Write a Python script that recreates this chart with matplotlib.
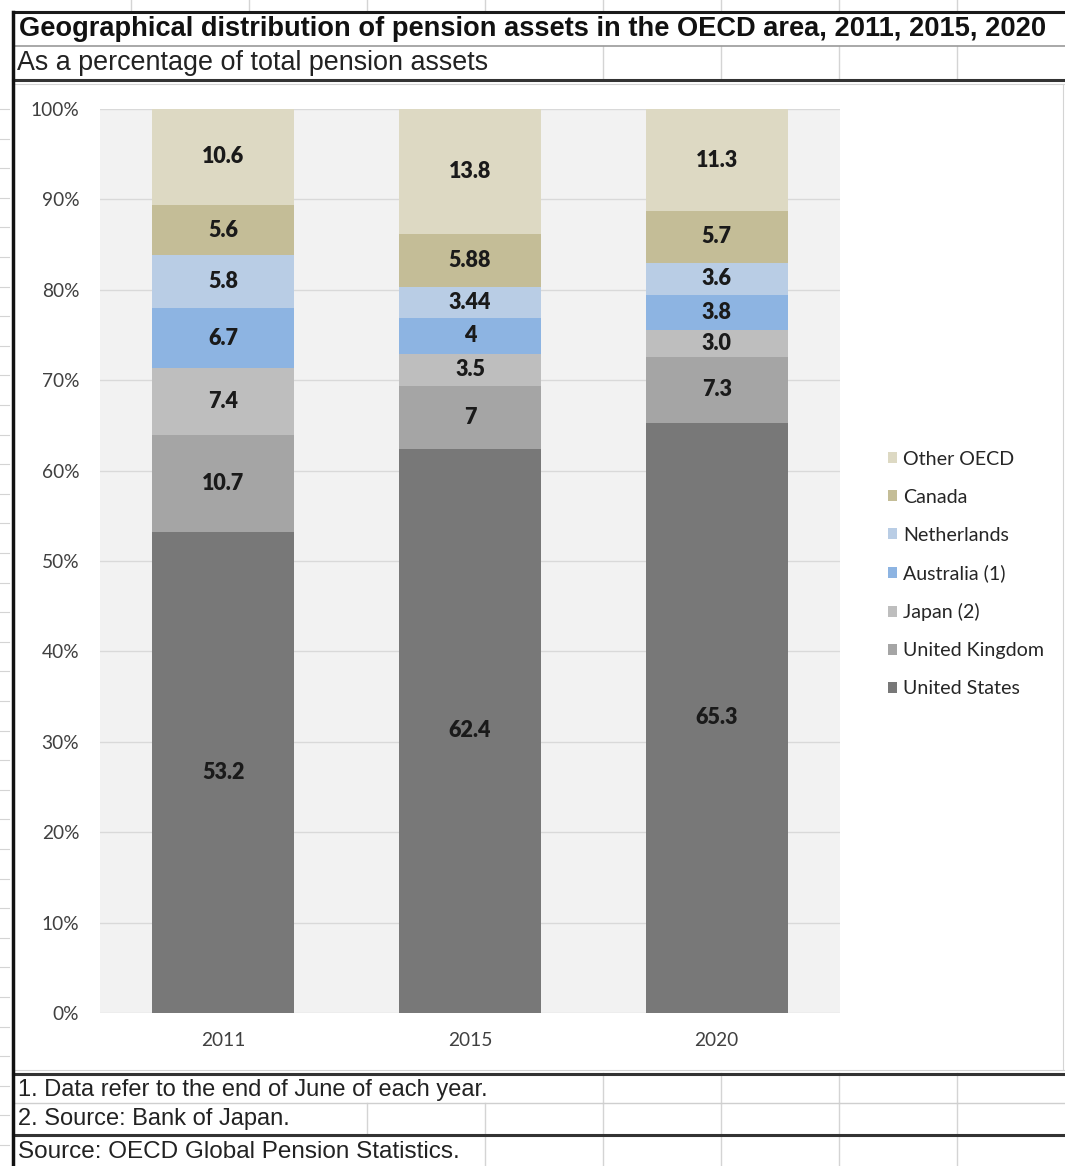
import matplotlib
matplotlib.use("Agg")
import matplotlib.pyplot as plt
from matplotlib.lines import Line2D
from matplotlib.patches import Patch
import numpy as np

W, H = 1065, 1166

years = ["2011", "2015", "2020"]
series = ["United States", "United Kingdom", "Japan (2)", "Australia (1)",
          "Netherlands", "Canada", "Other OECD"]
united_states = [53.2, 62.4, 65.3]
united_kingdom = [10.7, 7.0, 7.3]
japan = [7.4, 3.5, 3.0]
australia = [6.7, 4.0, 3.8]
netherlands = [5.8, 3.44, 3.6]
canada = [5.6, 5.88, 5.7]
other_oecd = [10.6, 13.8, 11.3]
# labels exactly as printed on the bars
labels = [
    ["53.2", "62.4", "65.3"],
    ["10.7", "7", "7.3"],
    ["7.4", "3.5", "3.0"],
    ["6.7", "4", "3.8"],
    ["5.8", "3.44", "3.6"],
    ["5.6", "5.88", "5.7"],
    ["10.6", "13.8", "11.3"],
]
colors = ["#787878", "#a5a5a5", "#bebebe", "#8db4e2", "#b9cde5", "#c4bd97", "#ddd9c3"]

title = "Geographical distribution of pension assets in the OECD area, 2011, 2015, 2020"
subtitle = "As a percentage of total pension assets"
notes = ["1. Data refer to the end of June of each year.",
         "2. Source: Bank of Japan.",
         "Source: OECD Global Pension Statistics."]

chart_font = "Lato"
sheet_font = "Liberation Sans"

fig = plt.figure(figsize=(W / 100, H / 100), dpi=100)
fig.patch.set_facecolor("white")


def fx(px):
    return px / W


def fy(py):
    return 1 - py / H


def hline(y, x0, x1, lw=1.0, color="#d4d4d4"):
    fig.add_artist(Line2D([fx(x0), fx(x1)], [fy(y), fy(y)], lw=lw, color=color,
                          transform=fig.transFigure))


def vline(x, y0, y1, lw=1.0, color="#d4d4d4"):
    fig.add_artist(Line2D([fx(x), fx(x)], [fy(y0), fy(y1)], lw=lw, color=color,
                          transform=fig.transFigure))


# spreadsheet grid around the chart
cols = [131, 249, 367, 485, 603, 721, 839, 957]
for c in cols:
    vline(c, 0, 12)
for c in [603, 721, 839, 957]:
    vline(c, 46, 80)
    vline(c, 1073, 1103)
for c in [367, 485, 603, 721, 839, 957]:
    vline(c, 1103, 1135)
for c in [485, 603, 721, 839, 957]:
    vline(c, 1135, 1166)
for y in np.arange(109, 1166, 29.6):
    hline(y, 0, 9, lw=0.8)

hline(12, 13, W, lw=2.2, color="#1a1a1a")
hline(46, 13, W, lw=1.2, color="#9a9a9a")
hline(80, 13, W, lw=2.2, color="#333333")
hline(84, 13, W, lw=0.8, color="#d4d4d4")
hline(1070, 13, W, lw=0.8, color="#d4d4d4")
hline(1074, 13, W, lw=2.2, color="#333333")
hline(1103, 13, W, lw=1.0, color="#cfcfcf")
hline(1135, 13, W, lw=2.2, color="#333333")
vline(13, 12, H, lw=2.5, color="#111111")
vline(1063, 84, 1070, lw=0.8, color="#d4d4d4")

fig.text(fx(19), fy(29), title, fontsize=19.6, fontweight="bold", family=sheet_font,
         va="center", ha="left", color="#111111")
fig.text(fx(17), fy(63), subtitle, fontsize=19.4, family=sheet_font,
         va="center", ha="left", color="#222222")
for t, y, fs in zip(notes, [1090, 1119, 1152], [17, 17, 17.5]):
    fig.text(fx(18), fy(y), t, fontsize=fs, family=sheet_font,
             va="center", ha="left", color="#222222")

# chart
ax = fig.add_axes([fx(100), fy(1013), fx(840) - fx(100), fy(109) - fy(1013)])
ax.set_facecolor("#f2f2f2")
x = np.arange(len(years))
data = [united_states, united_kingdom, japan, australia, netherlands, canada, other_oecd]
bottom = np.zeros(len(years))
for vals, lab, col, name in zip(data, labels, colors, series):
    bars = ax.bar(x, vals, width=0.575, bottom=bottom, color=col, edgecolor="none",
                  label=name, zorder=3)
    ax.bar_label(bars, labels=lab, label_type="center", fontsize=15.5, fontweight="heavy",
                 family=chart_font, color="#1a1a1a", zorder=4)
    bottom += np.array(vals)

ax.set_xlim(-0.5, 2.5)
ax.set_ylim(0, 100)
ax.set_yticks(np.arange(0, 101, 10))
ax.set_yticklabels([f"{v}%" for v in range(0, 101, 10)])
ax.set_xticks(x)
ax.set_xticklabels(years)
ax.grid(axis="y", color="#d9d9d9", lw=1.0, zorder=0)
for s in ax.spines.values():
    s.set_visible(False)
ax.tick_params(length=0, labelsize=13.8, labelcolor="#404040")
ax.tick_params(axis="y", pad=15)
ax.tick_params(axis="x", pad=14)
for lbl in ax.get_xticklabels() + ax.get_yticklabels():
    lbl.set_family(chart_font)

handles = [Patch(facecolor=c, edgecolor="none") for c in colors][::-1]
fig.legend(handles, series[::-1], loc="center left",
           bbox_to_anchor=(fx(870), fy(574)), frameon=False,
           prop={"family": chart_font, "size": 14.1},
           handlelength=0.5, handleheight=0.5, handletextpad=0.3,
           labelspacing=1.07, labelcolor="#262626")

fig.savefig("out.png", dpi=100, facecolor="white")
